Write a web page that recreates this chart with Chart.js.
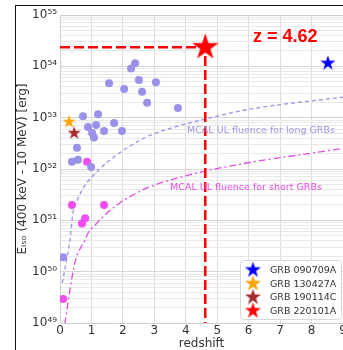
<!DOCTYPE html>
<html>
<head>
<meta charset="utf-8">
<script src="https://cdn.jsdelivr.net/npm/chart.js@4.4.0/dist/chart.umd.min.js"></script>
<style>
  html, body { margin: 0; padding: 0; overflow: hidden; background: #fff; }
  #wrap { position: relative; width: 360px; height: 350px; }
  #frame { position: absolute; left: 15px; top: 5px; width: 400px; height: 400px;
           border-left: 1.4px solid #111; border-top: 1.4px solid #111; pointer-events: none; }
</style>
</head>
<body>
<div id="wrap"><canvas id="c" width="360" height="350"></canvas><div id="frame"></div></div>
<script>
(function(){
	const FONT = '"DejaVu Sans", sans-serif';

	// long GRBs (purple dots)
	const longZ = [2.26, 2.39, 1.56, 2.51, 2.04, 2.61, 3.05, 2.77, 3.75, 0.73, 1.21, 0.89, 1.15, 1.72, 1.02, 1.08, 1.40, 1.97, 0.54, 0.38, 0.57, 0.99, 0.10];
	const longE = [9.1e53, 1.15e54, 4.7e53, 5.4e53, 3.6e53, 3.2e53, 4.9e53, 1.95e53, 1.55e53, 1.07e53, 1.17e53, 6.6e52, 7.2e52, 7.9e52, 5.0e52, 4.1e52, 5.5e52, 5.5e52, 2.6e52, 1.38e52, 1.51e52, 1.10e52, 1.9e50];

	// short GRBs (magenta dots)
	const shortZ = [0.86, 0.38, 1.40, 0.80, 0.70, 0.10];
	const shortE = [1.38e52, 2.0e51, 2.0e51, 1.1e51, 8.7e50, 2.95e49];

	// MCAL upper-limit curves
	const ulLongZ = [0.073, 0.223, 0.318, 0.413, 0.541, 0.732, 1.05, 1.37, 1.69, 2.04, 2.39, 2.86, 3.66, 4.68, 5.57, 6.36, 7.63, 9.0];
	const ulLongE = [6.0e49, 1.9e50, 4.1e50, 1.42e51, 2.4e51, 4.2e51, 7.4e51, 1.16e52, 1.66e52, 2.37e52, 3.2e52, 4.5e52, 6.6e52, 9.6e52, 1.29e53, 1.58e53, 2.0e53, 2.5e53];
	const ulShortZ = [0.15, 0.477, 0.795, 0.891, 1.11, 1.43, 1.91, 2.39, 2.86, 3.66, 4.68, 5.57, 6.36, 7.63, 9.0];
	const ulShortE = [9.5e48, 1.53e50, 4.1e50, 5.6e50, 8.0e50, 1.27e51, 2.2e51, 3.3e51, 4.5e51, 6.5e51, 9.3e51, 1.19e52, 1.45e52, 1.89e52, 2.53e52];

	// highlighted bursts
	const starNames = ['GRB 090709A', 'GRB 130427A', 'GRB 190114C', 'GRB 220101A'];
	const starZ = [8.52, 0.29, 0.45, 4.62];
	const starE = [1.15e54, 8.3e52, 5.0e52, 2.35e54];
	const starColors = ['#0000ff', '#ffa500', '#a52a2a', '#ff0000'];
	const starSizes = [8, 7, 7, 14];

	// red guide lines to GRB 220101A
	const guideZ = [0, 4.62, 4.62];
	const guideE = [2.35e54, 2.35e54, 1e49];

	const xTicks = [0, 1, 2, 3, 4, 5, 6, 7, 8, 9];
	const yExps = [49, 50, 51, 52, 53, 54, 55];

	const SUP = '⁰¹²³⁴⁵⁶⁷⁸⁹';
	function sup(n){ return String(n).split('').map(d => SUP[+d]).join(''); }
	function isDecade(v){ const l = Math.log10(v); return Math.abs(l - Math.round(l)) < 1e-6; }
	function pts(xs, ys){ return xs.map((x, i) => ({x: x, y: ys[i]})); }

	function starImg(r, color){
		const c = document.createElement('canvas');
		const s = Math.ceil(2 * r + 2);
		c.width = s; c.height = s;
		const g = c.getContext('2d');
		g.beginPath();
		for (let i = 0; i < 10; i++) {
			const rad = i % 2 ? r * 0.382 : r;
			const a = -Math.PI / 2 + i * Math.PI / 5;
			g.lineTo(s / 2 + rad * Math.cos(a), s / 2 + rad * Math.sin(a));
		}
		g.closePath();
		g.fillStyle = color;
		g.fill();
		return c;
	}

	const starSets = starNames.map((name, i) => ({
		label: name,
		data: [{x: starZ[i], y: starE[i]}],
		pointStyle: starImg(starSizes[i], starColors[i]),
		legendIcon: starImg(8.5, starColors[i]),
		pointRadius: starSizes[i]
	}));
	// red star on top of everything
	const orderedStars = [starSets[3], starSets[0], starSets[1], starSets[2]];

	const notes = [
		{text: 'MCAL UL fluence for long GRBs', z: 4.04, e: 5.5e52, color: '#9d98e2', font: '9.5px ' + FONT},
		{text: 'MCAL UL fluence for short GRBs', z: 3.5, e: 4.4e51, color: '#e84ae8', font: '9.5px ' + FONT},
		{text: 'z = 4.62', z: 6.14, e: 3.8e54, color: '#ff0000', font: 'bold 18px "Liberation Sans", sans-serif'}
	];

	const boxPlugin = {
		id: 'box',
		beforeDatasetsDraw(chart){
			const a = chart.chartArea, ctx = chart.ctx;
			ctx.save();
			ctx.strokeStyle = '#cfcfcf';
			ctx.lineWidth = 1;
			ctx.strokeRect(a.left + 0.5, a.top + 0.5, a.right - a.left, a.bottom - a.top);
			ctx.restore();
		}
	};

	const notesPlugin = {
		id: 'notes',
		afterDatasetsDraw(chart){
			const ctx = chart.ctx, xs = chart.scales.x, ys = chart.scales.y;
			ctx.save();
			ctx.textBaseline = 'middle';
			ctx.textAlign = 'left';
			notes.forEach(n => {
				ctx.font = n.font;
				ctx.fillStyle = n.color;
				ctx.fillText(n.text, xs.getPixelForValue(n.z), ys.getPixelForValue(n.e));
			});
			ctx.restore();
		}
	};

	const legendPlugin = {
		id: 'starLegend',
		afterDraw(chart){
			const a = chart.chartArea, ctx = chart.ctx;
			const w = 101, h = 59;
			const left = a.right - w - 2, top = a.bottom - h - 4;
			ctx.save();
			ctx.beginPath();
			ctx.roundRect(left + 0.5, top + 0.5, w, h, 3);
			ctx.fillStyle = 'rgba(255,255,255,0.85)';
			ctx.fill();
			ctx.strokeStyle = '#d8d8d8';
			ctx.lineWidth = 1;
			ctx.stroke();
			ctx.font = '9.5px ' + FONT;
			ctx.fillStyle = '#333';
			ctx.textBaseline = 'middle';
			starSets.forEach((s, i) => {
				const y = top + 10 + i * 13.6;
				const img = s.legendIcon;
				ctx.drawImage(img, left + 13 - img.width / 2, y - img.height / 2);
				ctx.fillText(s.label, left + 30, y + 0.5);
			});
			ctx.restore();
		}
	};

	new Chart(document.getElementById('c'), {
		type: 'scatter',
		data: {
			datasets: [
				...orderedStars.map(s => ({label: s.label, data: s.data, pointStyle: s.pointStyle, pointRadius: s.pointRadius})),
				{label: 'guide', data: pts(guideZ, guideE), showLine: true, borderColor: '#ff0000', borderWidth: 2.5, borderDash: [10, 4], pointRadius: 0},
				{label: 'long', data: pts(longZ, longE), backgroundColor: '#9a92e8', borderWidth: 0, pointRadius: 4},
				{label: 'short', data: pts(shortZ, shortE), backgroundColor: '#f04cf0', borderWidth: 0, pointRadius: 4},
				{label: 'UL long', data: pts(ulLongZ, ulLongE), showLine: true, borderColor: '#9893e0', borderWidth: 1.3, borderDash: [4, 3], pointRadius: 0, cubicInterpolationMode: 'monotone'},
				{label: 'UL short', data: pts(ulShortZ, ulShortE), showLine: true, borderColor: '#e050e0', borderWidth: 1.3, borderDash: [7, 3, 2, 3], pointRadius: 0, cubicInterpolationMode: 'monotone'}
			]
		},
		options: {
			responsive: false,
			animation: false,
			events: [],
			layout: {padding: {left: 12, top: 13.5, right: 17, bottom: 0}},
			plugins: {legend: {display: false}, tooltip: {enabled: false}},
			scales: {
				x: {
					type: 'linear', min: 0, max: 9,
					afterBuildTicks: s => { s.ticks = xTicks.map(v => ({value: v})); },
					afterFit: s => { s.height = 27; },
					grid: {color: '#dcdcdc', drawTicks: false},
					border: {display: false},
					ticks: {padding: 1, color: '#333', font: {family: FONT, size: 12}, autoSkip: false, maxRotation: 0, callback: v => String(v)},
					title: {display: true, text: 'redshift', color: '#333', font: {family: FONT, size: 12, lineHeight: 1}, padding: 0}
				},
				y: {
					type: 'logarithmic', min: 1e49, max: 1e55,
					afterBuildTicks: s => {
						const t = [];
						yExps.forEach(e => {
							for (let m = 1; m <= 9; m++) {
								if (e === 55 && m > 1) break;
								t.push({value: parseFloat(m + 'e' + e)});
							}
						});
						s.ticks = t;
					},
					afterFit: s => { s.width = 48; },
					grid: {color: c => (c.tick && isDecade(c.tick.value)) ? '#d6d6d6' : '#e8e8e8', drawTicks: false},
					border: {display: false},
					ticks: {
						padding: 3, color: '#333', font: {family: FONT, size: 12}, autoSkip: false,
						callback: v => isDecade(v) ? '10' + sup(Math.round(Math.log10(v))) : ''
					},
					title: {display: true, text: 'Eᵢₛₒ (400 keV - 10 MeV) [erg]', color: '#333', font: {family: FONT, size: 12}}
				}
			}
		},
		plugins: [boxPlugin, notesPlugin, legendPlugin]
	});
})();
</script>
</body>
</html>
